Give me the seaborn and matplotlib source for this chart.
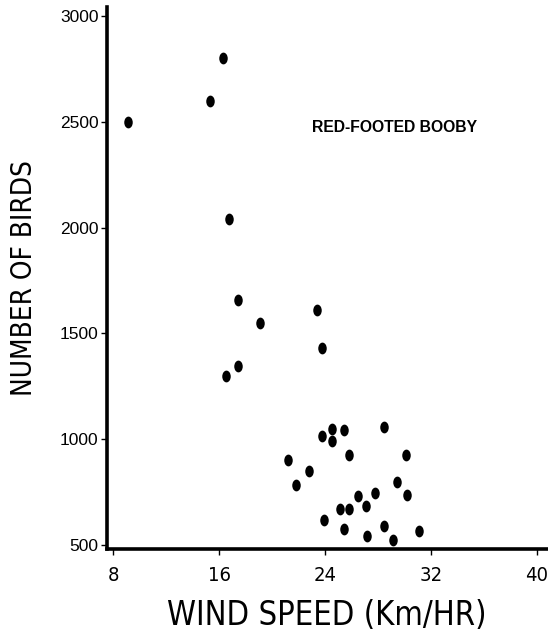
import numpy as np
import pandas as pd
import matplotlib
matplotlib.use("Agg")
import matplotlib.pyplot as plt
import seaborn as sns
from matplotlib.markers import MarkerStyle
from matplotlib.transforms import Affine2D

# wind speed (km/hr) and bird counts
wind_speed = [9.1, 16.3, 15.35, 16.75, 17.45, 19.1, 23.4, 23.8, 17.45, 16.5,
              21.2, 21.8, 22.8, 23.8, 23.9, 24.5, 24.5, 25.45, 25.8, 25.15,
              25.8, 25.45, 26.5, 27.1, 27.2, 27.8, 28.45, 28.5, 29.15, 29.45,
              30.1, 30.2, 31.1]
num_birds = [2500, 2800, 2600, 2040, 1660, 1550, 1610, 1430, 1345, 1300,
             900, 785, 850, 1015, 620, 1050, 990, 1045, 925, 668,
             668, 575, 733, 686, 542, 746, 1060, 590, 523, 798,
             925, 736, 565]
x_ticks = [8, 16, 24, 32, 40]
y_ticks = [500, 1000, 1500, 2000, 2500, 3000]

df = pd.DataFrame({"wind": wind_speed, "birds": num_birds})

sns.set_style("ticks")
plt.rcParams['font.family'] = ['Liberation Sans', 'DejaVu Sans']
plt.rcParams['text.color'] = 'black'
plt.rcParams['axes.labelcolor'] = 'black'
plt.rcParams['xtick.color'] = 'black'
plt.rcParams['ytick.color'] = 'black'

fig = plt.figure(figsize=(5.48, 6.38), dpi=100)
ax = fig.add_axes([0.195, 0.1395, 0.803, 0.8495])

# dots in the original are slightly taller than wide
dot = MarkerStyle('o', transform=Affine2D().scale(0.72, 1.0))
sns.scatterplot(data=df, x="wind", y="birds", ax=ax, marker=dot, s=72,
                color="black", edgecolor="black", linewidth=0)

ax.set_xlim(7.52, 40.78)
ax.set_ylim(481, 3043)
ax.set_xticks(x_ticks)
ax.set_yticks(y_ticks)
ax.set_xticklabels([str(t) for t in x_ticks], family='DejaVu Sans', stretch='condensed', fontsize=14.5)
ax.set_yticklabels([str(t) for t in y_ticks], family='Liberation Sans', fontsize=12.5)
ax.tick_params(axis='both', direction='out', length=4, width=1, color='black')
ax.tick_params(axis='x', pad=8)
ax.tick_params(axis='y', pad=2)

sns.despine(ax=ax)
for side in ['left', 'bottom']:
    ax.spines[side].set_linewidth(2.6)
    ax.spines[side].set_color('black')

ax.set_xlabel("WIND SPEED (Km/HR)", family='DejaVu Sans', stretch='condensed', fontsize=23.5, labelpad=10)
ax.set_ylabel("NUMBER OF BIRDS", family='DejaVu Sans', stretch='condensed', fontsize=20, labelpad=16)

ax.text(23.05, 2475, "RED-FOOTED BOOBY", fontsize=11.3, fontweight='bold',
        family='Liberation Sans', va='center', ha='left')

fig.savefig("out.png", dpi=100)
